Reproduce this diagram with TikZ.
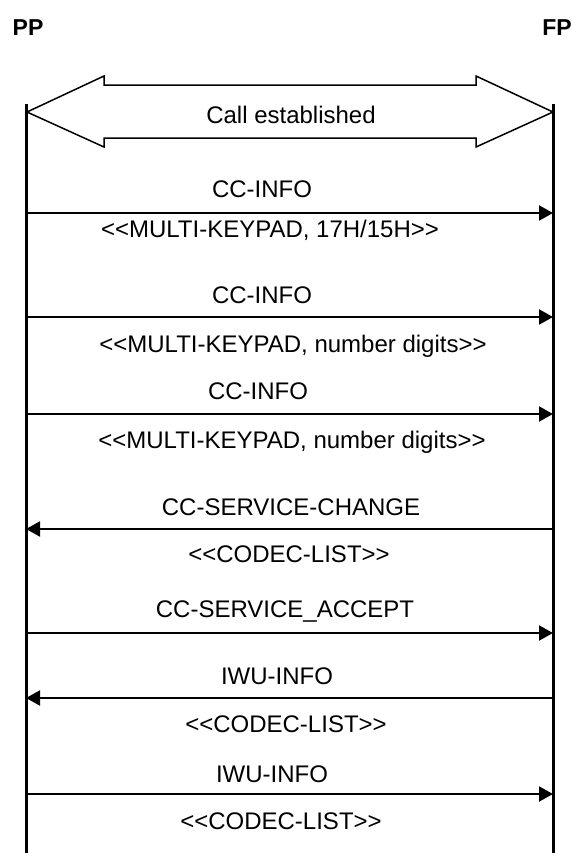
\documentclass[tikz,border=0pt]{standalone}
\usepackage{fontspec}
\usetikzlibrary{arrows.meta}
\newfontfamily\msgfont{Liberation Sans}

\begin{document}
\begin{tikzpicture}[x=0.5pt, y=-0.5pt, >={Triangle[length=7pt,width=7.5pt]},
    life/.style={line width=1.5pt},
    msg/.style={line width=1pt, ->},
    lbl/.style={anchor=base, inner sep=0pt, font=\msgfont\fontsize{12}{14}\selectfont},
    ent/.style={anchor=base, inner sep=0pt, font=\msgfont\bfseries\fontsize{11.5}{14}\selectfont}]

  \useasboundingbox (0,0) rectangle (572,853);

  % entities and lifelines
  \node[ent] (PP) at (28,35) {PP};
  \node[ent] (FP) at (557,35) {FP};
  \coordinate (PPtop) at (26,104);
  \coordinate (PPbot) at (26,853);
  \coordinate (FPtop) at (553,104);
  \coordinate (FPbot) at (553,853);
  \draw[life] (PPtop) -- (PPbot);
  \draw[life] (FPtop) -- (FPbot);

  % call established
  \draw[line width=0.75pt, line join=miter] (27,112) -- (104,76) -- (104,85) -- (476,85)
    -- (476,76) -- (553,112) -- (476,147) -- (476,138) -- (104,138) -- (104,147) -- cycle;
  \node[lbl] (call) at (291,123) {Call established};

  % message end points on the lifelines
  \foreach \i/\y in {1/213, 2/317, 3/414, 4/529, 5/633, 6/698, 7/794} {
    \coordinate (pp\i) at (26,\y);
    \coordinate (fp\i) at (553,\y);
  }

  \draw[msg] (pp1) -- (fp1);
  \node[lbl] (m1) at (262,197) {CC-INFO};
  \node[lbl] (p1) at (270,237) {<<MULTI-KEYPAD, 17H/15H>>};

  \draw[msg] (pp2) -- (fp2);
  \node[lbl] (m2) at (262,303) {CC-INFO};
  \node[lbl] (p2) at (293,352) {<<MULTI-KEYPAD, number digits>>};

  \draw[msg] (pp3) -- (fp3);
  \node[lbl] (m3) at (258,399) {CC-INFO};
  \node[lbl] (p3) at (292,448) {<<MULTI-KEYPAD, number digits>>};

  \draw[msg] (fp4) -- (pp4);
  \node[lbl] (m4) at (291,515) {CC-SERVICE-CHANGE};
  \node[lbl] (p4) at (289,562) {<<CODEC-LIST>>};

  \draw[msg] (pp5) -- (fp5);
  \node[lbl] (m5) at (285,617) {CC-SERVICE\_ACCEPT};

  \draw[msg] (fp6) -- (pp6);
  \node[lbl] (m6) at (277,684) {IWU-INFO};
  \node[lbl] (p6) at (286,732) {<<CODEC-LIST>>};

  \draw[msg] (pp7) -- (fp7);
  \node[lbl] (m7) at (272,782) {IWU-INFO};
  \node[lbl] (p7) at (281,829) {<<CODEC-LIST>>};
\end{tikzpicture}
\end{document}
